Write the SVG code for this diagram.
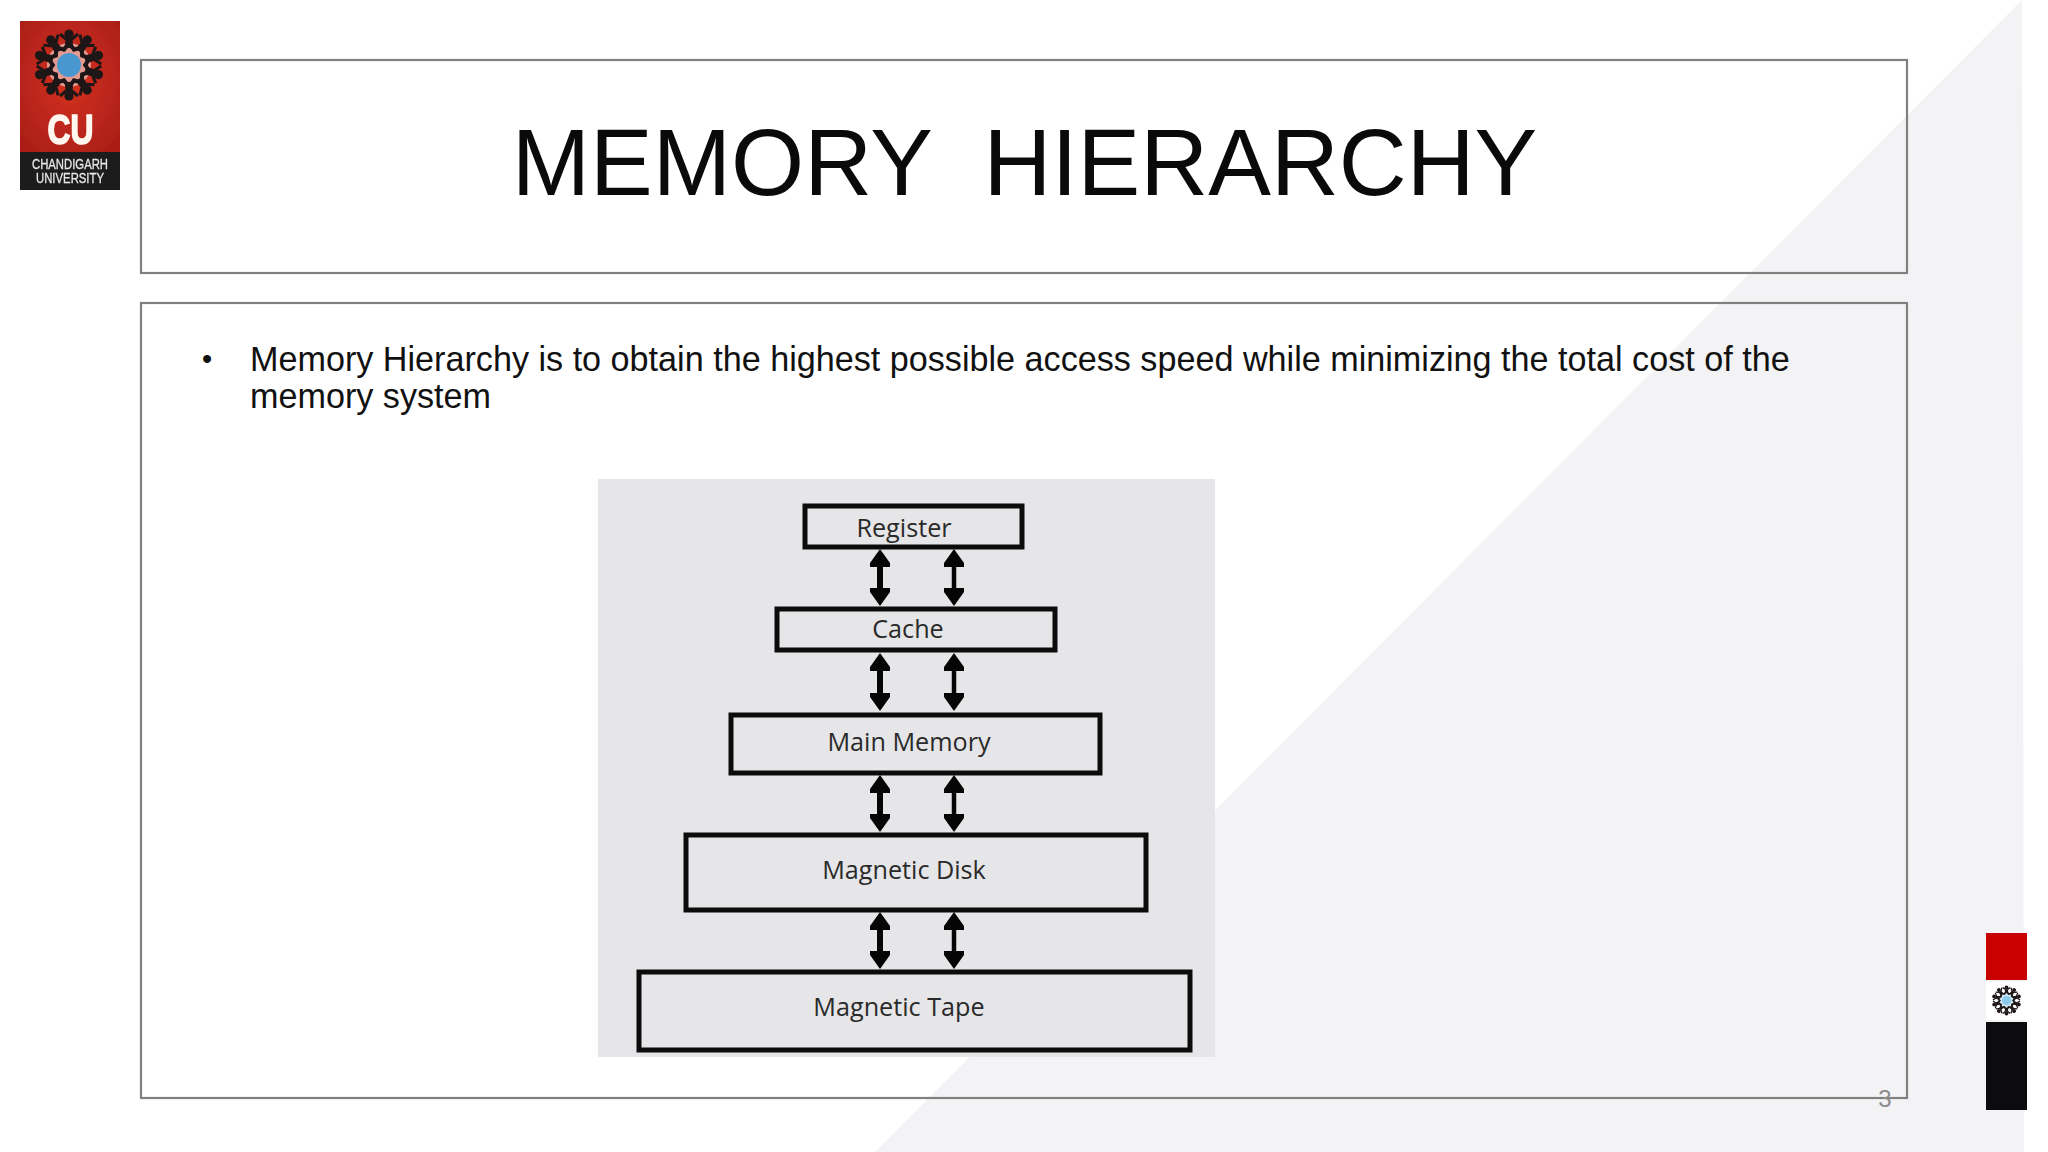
<svg xmlns="http://www.w3.org/2000/svg" width="2048" height="1152" viewBox="0 0 2048 1152">
<style>
.frame{fill:none;stroke:#808080;stroke-width:2.2}
.box{fill:none;stroke:#0c0c0c;stroke-width:5}
.lbl{font-family:"Open Sans","Noto Sans",sans-serif;font-size:25.2px;fill:#2a2a2a;text-anchor:middle}
.sans{font-family:"Liberation Sans",Arial,sans-serif}
.arrow{stroke:#050505;stroke-width:6;fill:none;marker-start:url(#head);marker-end:url(#head)}
</style>
<defs>
<marker id="head" markerUnits="userSpaceOnUse" viewBox="0 0 18 22" refX="2" refY="11" markerWidth="18" markerHeight="22" orient="auto-start-reverse"><path d="M0,1 L4,1 L18,11 L4,21 L0,21 Z" fill="#050505"/></marker>
<radialGradient id="red" cx="50%" cy="45%" r="65%"><stop offset="0" stop-color="#d6321f"/><stop offset="1" stop-color="#ab1f18"/></radialGradient>
<filter id="soft" x="-5%" y="-5%" width="110%" height="110%"><feGaussianBlur stdDeviation="0.7"/></filter>
<g id="person" fill="#1d1414"><circle cx="0" cy="-31" r="4.6"/><path d="M-3.5,-27 L3.5,-27 L4,-20 L8,-15 L5,-13 L1,-17 L-1,-17 L-5,-13 L-8,-15 L-4,-20 Z"/><path d="M-9,-31 L-3,-26 M9,-31 L3,-26" stroke="#1d1414" stroke-width="3"/></g>
<g id="wheel"><use href="#person"/><use href="#person" transform="rotate(36)"/><use href="#person" transform="rotate(72)"/><use href="#person" transform="rotate(108)"/><use href="#person" transform="rotate(144)"/><use href="#person" transform="rotate(180)"/><use href="#person" transform="rotate(216)"/><use href="#person" transform="rotate(252)"/><use href="#person" transform="rotate(288)"/><use href="#person" transform="rotate(324)"/></g>
</defs>
<rect width="2048" height="1152" fill="#ffffff"/>
<path d="M2022,0 L2024,1152 L875,1152 Z" fill="#f3f2f5"/>

<g id="logo" filter="url(#soft)">
<rect x="20" y="21" width="100" height="131" fill="url(#red)"/>
<rect x="20" y="152" width="100" height="38" fill="#1c1a1a"/>
<circle cx="69" cy="65" r="22" fill="#e39a90"/>
<use href="#wheel" transform="translate(69,65)"/>
<circle cx="69" cy="65" r="12" fill="#4a97cf"/>
<text class="sans" x="70.5" y="144" font-size="42" font-weight="700" fill="#fff6f0" stroke="#fff6f0" stroke-width="1.6" text-anchor="middle" textLength="46" lengthAdjust="spacingAndGlyphs">CU</text>
<text class="sans" x="70" y="169" font-size="15" fill="#e8e8e8" stroke="#e8e8e8" stroke-width="0.3" text-anchor="middle" textLength="76" lengthAdjust="spacingAndGlyphs">CHANDIGARH</text>
<text class="sans" x="70" y="183" font-size="15" fill="#e8e8e8" stroke="#e8e8e8" stroke-width="0.3" text-anchor="middle" textLength="68" lengthAdjust="spacingAndGlyphs">UNIVERSITY</text>
</g>

<g id="title-box">
<rect class="frame" x="141" y="60" width="1766" height="213"/>
<text class="sans" x="1024.5" y="195" font-size="94" fill="#0a0a0a" text-anchor="middle" xml:space="preserve">MEMORY  HIERARCHY</text>
</g>
<g id="content-box">
<rect class="frame" x="141" y="303" width="1766" height="795"/>
<text class="sans" x="202" y="369" font-size="29" fill="#111">•</text>
<text class="sans" x="250" y="370.5" font-size="34.17" fill="#111">Memory Hierarchy is to obtain the highest possible access speed while minimizing the total cost of the</text>
<text class="sans" x="250" y="407.5" font-size="34.17" fill="#111">memory system</text>
</g>

<rect id="figure-bg" x="598" y="479" width="617" height="578" fill="#e6e5e8"/>
<g id="register"><rect class="box" x="805" y="506" width="217" height="41"/><text class="lbl" x="904" y="537">Register</text></g>
<g id="cache"><rect class="box" x="777" y="609" width="278" height="41"/><text class="lbl" x="908" y="638">Cache</text></g>
<g id="main-memory"><rect class="box" x="731" y="715" width="369" height="58"/><text class="lbl" x="909" y="751">Main Memory</text></g>
<g id="magnetic-disk"><rect class="box" x="686" y="835" width="460" height="75"/><text class="lbl" x="904" y="879">Magnetic Disk</text></g>
<g id="magnetic-tape"><rect class="box" x="639" y="972" width="551" height="78"/><text class="lbl" x="899" y="1016">Magnetic Tape</text></g>
<g id="connectors">
<line class="arrow" x1="880" y1="565" x2="880" y2="590"/><line class="arrow" x1="954" y1="565" x2="954" y2="590" style="stroke-width:4.5"/>
<line class="arrow" x1="880" y1="669" x2="880" y2="695"/><line class="arrow" x1="954" y1="669" x2="954" y2="695" style="stroke-width:4.5"/>
<line class="arrow" x1="880" y1="791" x2="880" y2="816"/><line class="arrow" x1="954" y1="791" x2="954" y2="816" style="stroke-width:4.5"/>
<line class="arrow" x1="880" y1="928" x2="880" y2="953"/><line class="arrow" x1="954" y1="928" x2="954" y2="953" style="stroke-width:4.5"/>
</g>

<g id="side-marks">
<rect x="1986" y="933" width="41" height="47" fill="#c80000"/>
<rect x="1986" y="1022" width="41" height="88" fill="#0c0b0e"/>
<rect x="1986" y="982" width="41" height="38" fill="#ffffff"/>
<g transform="translate(2006.5,1000.5) scale(0.42)" filter="url(#soft)"><circle r="22" fill="#cfe6f4"/><use href="#wheel"/><circle r="11" fill="#8ccaec"/></g>
</g>
<text id="page-number" class="sans" x="1885" y="1107" font-size="24" fill="#8c8c8c" text-anchor="middle">3</text>
</svg>
